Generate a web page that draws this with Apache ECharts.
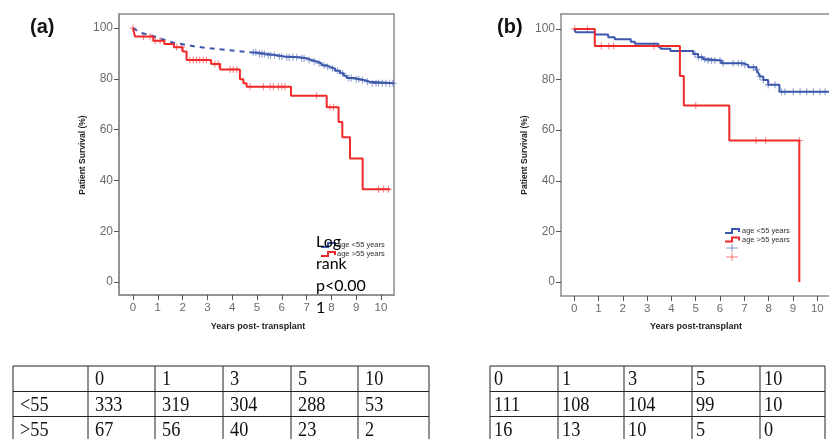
<!DOCTYPE html>
<html>
<head>
<meta charset="utf-8">
<script src="https://cdn.jsdelivr.net/npm/echarts@6/dist/echarts.min.js"></script>
<style>
  html, body { margin: 0; padding: 0; background: #fff; }
  #chart { width: 829px; height: 439px; }
</style>
</head>
<body>
<div id="chart"></div>
<script>
// ---- data ----
const yearTicks = [0, 1, 2, 3, 4, 5, 6, 7, 8, 9, 10];
const survivalTicks = [0, 20, 40, 60, 80, 100];

// panel (a)
const blueA_early = [[0, 100], [0.28, 98.2], [0.69, 97.2], [1.09, 95.9], [1.63, 94.2], [2.57, 92.6], [3.37, 91.7], [4.85, 90.3]];
const blueA_steps = [[4.85, 90.3], [5.0, 89.8], [5.4, 89.3], [5.8, 88.8], [6.1, 88.5], [6.7, 88.1], [7.0, 87.4], [7.2, 86.8],
  [7.4, 86.1], [7.6, 85.3], [7.8, 84.7], [7.95, 84.0], [8.15, 83.2], [8.35, 82.2], [8.5, 81.2], [8.62, 80.3],
  [8.9, 79.8], [9.15, 79.4], [9.35, 78.8], [9.55, 78.2], [10.52, 78.2]];
const blueA_censor = [[4.85, 90.3], [4.95, 90.3], [5.1, 89.8], [5.2, 89.8], [5.3, 89.8], [5.45, 89.3], [5.55, 89.3], [5.7, 89.3],
  [5.9, 88.8], [6.0, 88.8], [6.2, 88.5], [6.3, 88.5], [6.45, 88.5], [6.6, 88.5], [6.8, 88.1], [6.9, 88.1],
  [7.1, 87.4], [7.3, 86.8], [7.5, 86.1], [7.7, 85.3], [7.85, 84.7], [8.05, 84.0], [8.25, 83.2], [8.45, 82.2],
  [8.7, 80.3], [8.8, 80.3], [9.0, 79.8], [9.1, 79.8], [9.25, 79.4], [9.45, 78.8], [9.65, 78.2], [9.8, 78.2],
  [9.9, 78.2], [10.05, 78.2], [10.2, 78.2], [10.35, 78.2], [10.48, 78.2]];
const redA_steps = [[0, 100], [0.08, 96.6], [0.82, 95.0], [1.26, 93.7], [1.65, 92.4], [2.0, 90.7], [2.16, 87.4],
  [3.15, 85.8], [3.51, 83.7], [4.31, 79.8], [4.45, 78.2], [4.58, 76.9], [6.37, 73.3], [7.81, 68.8],
  [8.29, 63.0], [8.44, 57.0], [8.75, 48.6], [9.26, 36.5], [10.36, 36.5]];
const redA_censor = [[0, 100], [0.42, 96.6], [0.69, 96.6], [0.89, 95.0], [1.09, 95.0], [1.76, 92.4], [1.96, 92.4],
  [2.29, 87.4], [2.43, 87.4], [2.56, 87.4], [2.69, 87.4], [2.83, 87.4], [2.96, 87.4], [3.3, 85.8], [3.44, 85.8],
  [3.91, 83.7], [4.04, 83.7], [4.18, 83.7], [4.72, 76.9], [5.26, 76.9], [5.53, 76.9], [5.66, 76.9], [5.86, 76.9],
  [6.0, 76.9], [6.13, 76.9], [7.4, 73.3], [7.94, 68.8], [8.08, 68.8], [9.9, 36.5], [10.1, 36.5], [10.3, 36.5]];

// panel (b)
const blueB_steps = [[0, 100], [0.07, 98.7], [0.85, 97.8], [1.4, 96.7], [1.67, 95.9], [2.33, 94.9], [2.5, 94.1],
  [3.46, 93.0], [3.55, 92.2], [3.96, 91.3], [4.9, 90.1], [5.1, 88.8], [5.31, 88.0], [5.51, 87.5], [6.06, 86.4],
  [6.95, 85.8], [7.16, 84.9], [7.5, 83.8], [7.58, 82.5], [7.64, 81.2], [7.78, 79.8], [7.98, 77.9], [8.44, 75.2],
  [10.6, 75.2]];
const blueB_censor = [[4.97, 90.1], [5.1, 88.8], [5.24, 88.8], [5.38, 88.0], [5.51, 87.5], [5.65, 87.5], [5.79, 87.5],
  [6.0, 87.5], [6.13, 86.4], [6.54, 86.4], [6.75, 86.4], [6.89, 86.4], [7.02, 85.8], [7.37, 84.9], [7.5, 83.8],
  [7.64, 81.2], [7.78, 79.8], [7.98, 77.9], [8.26, 77.9], [8.53, 75.2], [8.67, 75.2], [9.01, 75.2], [9.29, 75.2],
  [9.56, 75.2], [9.84, 75.2], [10.11, 75.2], [10.32, 75.2]];
const redB_steps = [[0, 100], [0.85, 93.3], [4.35, 81.4], [4.51, 69.7], [6.38, 55.9], [9.26, 0]];
const redB_censor = [[0.02, 100], [0.55, 100], [1.12, 93.3], [1.43, 93.3], [1.62, 93.3], [3.28, 93.3],
  [5.0, 69.7], [7.48, 55.9], [7.88, 55.9], [9.27, 55.9]];

// numbers at risk
const riskYears = ['0', '1', '3', '5', '10'];
const riskA_young = [333, 319, 304, 288, 53];
const riskA_old = [67, 56, 40, 23, 2];
const riskB_young = [111, 108, 104, 99, 10];
const riskB_old = [16, 13, 10, 5, 0];

const legendNames = ['age <55 years', 'age >55 years'];

// ---- styling ----
const BLUE = '#3c58ad';
const RED = '#f02a2a';
const FRAME = '#8c8c8c';
const CROSS = 'path://M0,4.2H10V5.8H0Z M4.2,0H5.8V10H4.2Z';

const chart = echarts.init(document.getElementById('chart'), null, {renderer: 'canvas'});

function xAx(gridIndex, min, max) {
    return {
        type: 'value', gridIndex, min, max,
        axisLine: {show: true, onZero: false, lineStyle: {color: FRAME, width: 1.5}},
        axisTick: {show: true, length: 5, customValues: yearTicks, lineStyle: {color: '#555'}},
        axisLabel: {customValues: yearTicks, color: '#6b6b6b', fontSize: 11.5, fontFamily: 'Liberation Sans', margin: 7},
        splitLine: {show: false}
    };
}

function yAx(gridIndex, min, max) {
    return {
        type: 'value', gridIndex, min, max,
        axisLine: {show: true, onZero: false, lineStyle: {color: FRAME, width: 1.5}},
        axisTick: {show: true, length: 5, customValues: survivalTicks, lineStyle: {color: '#555'}},
        axisLabel: {customValues: survivalTicks, color: '#6b6b6b', fontSize: 12, fontFamily: 'Liberation Sans', margin: 6},
        splitLine: {show: false}
    };
}

// top edge of the (b) frame, its right edge is cut off in the source
function topEdge(gridIndex, min, max) {
    return {
        type: 'value', gridIndex, min, max, position: 'top',
        axisLine: {show: true, onZero: false, lineStyle: {color: FRAME, width: 1.5}},
        axisTick: {show: false}, axisLabel: {show: false}, splitLine: {show: false}
    };
}

function stepLine(data, color, idx, dashed) {
    return {
        type: 'line', data, xAxisIndex: idx, yAxisIndex: idx,
        step: dashed ? false : 'end', showSymbol: false, silent: true,
        lineStyle: {color, width: 2, type: dashed ? [5, 5] : 'solid'}
    };
}

function censor(data, color, idx) {
    return {
        type: 'scatter', data, xAxisIndex: idx, yAxisIndex: idx,
        symbol: CROSS, symbolSize: 7, silent: true,
        itemStyle: {color, opacity: 0.55}
    };
}

// tables drawn from the risk arrays
function tableGraphics(colX, rows, padX) {
    const rowY = [366, 391.5, 416.5, 442];
    const out = [];
    rowY.forEach(y => out.push({type: 'line', shape: {x1: colX[0], y1: y, x2: colX[colX.length - 1], y2: y},
        style: {stroke: '#222', lineWidth: 1}}));
    colX.forEach(x => out.push({type: 'line', shape: {x1: x, y1: rowY[0], x2: x, y2: rowY[3]},
        style: {stroke: '#222', lineWidth: 1}}));
    rows.forEach((row, r) => {
        row.forEach((cell, c) => {
            out.push({type: 'text', x: colX[c] + padX, y: (rowY[r] + rowY[r + 1]) / 2 + 1, scaleX: 0.87,
                style: {text: String(cell), font: '21px "Liberation Serif"', fill: '#111', verticalAlign: 'middle'}});
        });
    });
    return out;
}

function legendStep(x, y, color) {
    return {type: 'polyline', shape: {points: [[x, y + 2], [x + 7, y + 2], [x + 7, y - 2], [x + 14, y - 2], [x + 14, y + 1]]},
        style: {stroke: color, lineWidth: 2, fill: null}};
}

function legendText(x, y, text) {
    return {type: 'text', x, y, style: {text, font: '7.5px "Liberation Sans"', fill: '#333', verticalAlign: 'middle'}};
}

function crossMark(x, y, color) {
    return [
        {type: 'line', shape: {x1: x - 6, y1: y, x2: x + 6, y2: y}, style: {stroke: color, lineWidth: 1, opacity: 0.6}},
        {type: 'line', shape: {x1: x, y1: y - 4, x2: x, y2: y + 4}, style: {stroke: color, lineWidth: 1, opacity: 0.6}}
    ];
}

const graphics = [
    {type: 'text', x: 30, y: 27, style: {text: '(a)', font: 'bold 20px "Liberation Sans"', fill: '#111', verticalAlign: 'middle'}},
    {type: 'text', x: 497, y: 27, style: {text: '(b)', font: 'bold 20px "Liberation Sans"', fill: '#111', verticalAlign: 'middle'}},
    {type: 'text', x: 83, y: 155, rotation: Math.PI / 2,
        style: {text: 'Patient Survival (%)', font: 'bold 8.5px "Liberation Sans"', fill: '#222', align: 'center', verticalAlign: 'middle'}},
    {type: 'text', x: 525, y: 155, rotation: Math.PI / 2,
        style: {text: 'Patient Survival (%)', font: 'bold 8.5px "Liberation Sans"', fill: '#222', align: 'center', verticalAlign: 'middle'}},
    {type: 'text', x: 258, y: 327,
        style: {text: 'Years post- transplant', font: 'bold 9px "Liberation Sans"', fill: '#222', align: 'center', verticalAlign: 'middle'}},
    {type: 'text', x: 696, y: 327,
        style: {text: 'Years post-transplant', font: 'bold 9px "Liberation Sans"', fill: '#222', align: 'center', verticalAlign: 'middle'}},

    // legend (a), partly covered by the log rank note
    legendStep(321, 245, BLUE),
    legendStep(321, 254, RED),
    legendText(337, 245, legendNames[0]),
    legendText(337, 254, legendNames[1]),
    {type: 'text', x: 316, y: 231,
        style: {text: 'Log\nrank\np<0.00\n1', font: '16px Lato', lineHeight: 22, fill: '#000'}},

    // legend (b)
    legendStep(725, 231, BLUE),
    legendStep(725, 239.5, RED),
    legendText(742, 231, legendNames[0]),
    legendText(742, 239.5, legendNames[1]),
    ...crossMark(732, 248, BLUE),
    ...crossMark(732, 257, RED),

    ...tableGraphics([13, 88, 155, 223, 291, 358, 429],
        [['', ...riskYears], ['<55', ...riskA_young], ['>55', ...riskA_old]], 7),
    ...tableGraphics([490, 558, 624, 692, 760, 825],
        [riskYears, riskB_young, riskB_old], 4)
];

const option = {
    animation: false,
    backgroundColor: '#fff',
    grid: [
        {left: 119, top: 14, width: 275, height: 281, show: true, borderColor: FRAME, borderWidth: 1.5, containLabel: false},
        {left: 561, top: 14, right: 0, height: 282, show: false, containLabel: false}
    ],
    xAxis: [xAx(0, -0.565, 10.524), xAx(1, -0.54, 10.48), topEdge(1, -0.54, 10.48)],
    yAxis: [yAx(0, -5.12, 105.5), yAx(1, -5.53, 105.9)],
    series: [
        stepLine(blueA_early, BLUE, 0, true),
        stepLine(blueA_steps, BLUE, 0, false),
        censor(blueA_censor, BLUE, 0),
        stepLine(redA_steps, RED, 0, false),
        censor(redA_censor, RED, 0),
        stepLine(blueB_steps, BLUE, 1, false),
        censor(blueB_censor, BLUE, 1),
        stepLine(redB_steps, RED, 1, false),
        censor(redB_censor, RED, 1)
    ],
    graphic: graphics
};

chart.setOption(option);
</script>
</body>
</html>
